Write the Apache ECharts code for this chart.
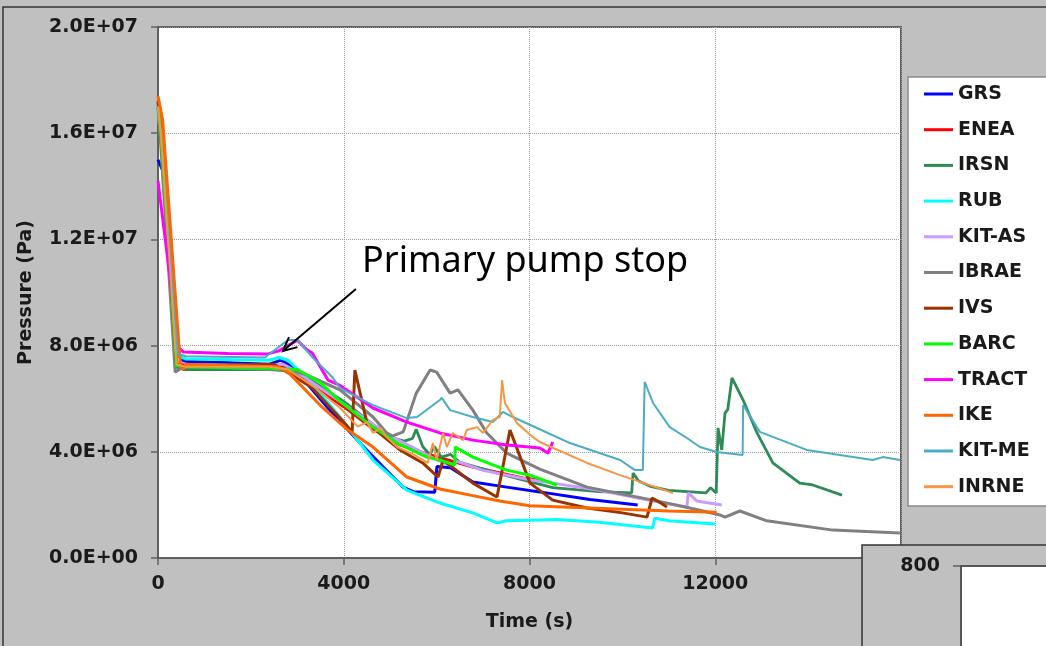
<!DOCTYPE html>
<html><head><meta charset="utf-8">
<script src="https://cdn.jsdelivr.net/npm/echarts@6/dist/echarts.min.js"></script>
<style>html,body{margin:0;padding:0;background:#c0c0c0}#c{width:1046px;height:646px}</style>
</head><body><div id="c"></div><script>
// ---- data (time s, pressure Pa) ----
const seriesNames = ['GRS','ENEA','IRSN','RUB','KIT-AS','IBRAE','IVS','BARC','TRACT','IKE','KIT-ME','INRNE'];
const seriesColors = ['#0000ff','#ff0000','#2e8b57','#00ffff','#cc99ff','#808080','#993300','#00ff00','#ff00ff','#ff6600','#4bacc6','#f79646'];
const xTickValues = [0,4000,8000,12000,16000];
const yTickValues = [0,4e6,8e6,1.2e7,1.6e7,2e7];
const yTickLabels = ['0.0E+00','4.0E+06','8.0E+06','1.2E+07','1.6E+07','2.0E+07'];

const GRS = [[0,15.0e6],[100,14.6e6],[450,7.7e6],[550,7.4e6],[1500,7.35e6],[2400,7.3e6],[2650,7.45e6],[2900,7.2e6],[3660,5.65e6],[4350,4.33e6],[4850,3.43e6],[5275,2.67e6],[5500,2.5e6],[5960,2.48e6],[6007,3.45e6],[6300,3.4e6],[6780,2.86e6],[7510,2.67e6],[8220,2.49e6],[9300,2.2e6],[10330,2.0e6]];
const ENEA = [[0,17.0e6],[60,16.5e6],[400,7.3e6],[600,7.2e6],[2400,7.15e6],[2700,7.2e6],[3000,6.9e6],[4000,5.7e6],[4600,4.9e6],[5210,4.26e6],[5860,3.88e6],[6780,3.43e6],[7860,3.01e6],[8220,2.94e6]];
const IRSN = [[0,17.2e6],[60,16.5e6],[380,7.2e6],[550,7.1e6],[2400,7.1e6],[2800,7.05e6],[3200,6.8e6],[4000,5.9e6],[4800,4.8e6],[5000,4.65e6],[5100,4.5e6],[5300,4.4e6],[5480,4.5e6],[5560,4.85e6],[5700,4.2e6],[5850,3.9e6],[5950,4.2e6],[6100,3.8e6],[6300,3.9e6],[6500,3.6e6],[7500,3.1e6],[8500,2.65e6],[9500,2.5e6],[10200,2.45e6],[10230,3.2e6],[10350,2.9e6],[10600,2.7e6],[11000,2.55e6],[11800,2.45e6],[11900,2.65e6],[12020,2.45e6],[12060,4.9e6],[12140,4.07e6],[12210,5.46e6],[12270,5.6e6],[12360,6.78e6],[12600,5.95e6],[12900,4.71e6],[13240,3.58e6],[13820,2.82e6],[14100,2.75e6],[14730,2.37e6]];
const RUB = [[0,17.0e6],[60,16.0e6],[420,7.6e6],[600,7.5e6],[2400,7.45e6],[2600,7.55e6],[2800,7.45e6],[3300,6.6e6],[3920,5.3e6],[4630,3.69e6],[5360,2.56e6],[6070,2.07e6],[6780,1.70e6],[7300,1.32e6],[7500,1.4e6],[8220,1.43e6],[8600,1.45e6],[9500,1.35e6],[10650,1.13e6],[10700,1.5e6],[11000,1.4e6],[12000,1.28e6]];
const KITAS = [[0,16.8e6],[60,16e6],[400,7.4e6],[600,7.3e6],[2400,7.25e6],[2700,7.3e6],[3000,7.0e6],[4000,5.8e6],[5000,4.6e6],[6000,3.7e6],[6350,3.45e6],[6420,3.65e6],[7000,3.3e6],[8000,2.95e6],[8500,2.82e6],[9500,2.55e6],[10500,2.2e6],[11390,1.92e6],[11420,2.45e6],[11600,2.15e6],[12140,2.0e6]];
const IBRAE = [[0,17.0e6],[60,15.5e6],[370,7.0e6],[550,7.2e6],[2400,7.1e6],[2800,7.1e6],[3200,6.9e6],[3920,6.33e6],[4630,5.31e6],[5000,4.56e6],[5280,4.75e6],[5560,6.2e6],[5860,7.08e6],[6000,7.0e6],[6290,6.21e6],[6460,6.33e6],[6780,5.57e6],[7080,4.71e6],[7510,3.95e6],[8220,3.35e6],[9240,2.67e6],[10660,2.18e6],[11670,1.8e6],[12100,1.62e6],[12210,1.54e6],[12530,1.77e6],[13110,1.4e6],[14530,1.05e6],[15975,0.94e6]];
const IVS = [[0,17.2e6],[60,16e6],[400,7.3e6],[600,7.25e6],[2500,7.3e6],[3300,6.44e6],[3960,5.2e6],[4180,4.75e6],[4240,7.08e6],[4500,5.08e6],[5210,4.07e6],[5700,3.58e6],[6030,3.05e6],[6140,3.69e6],[6220,3.58e6],[6780,2.82e6],[7300,2.3e6],[7580,4.82e6],[7800,3.8e6],[8010,2.82e6],[8500,2.18e6],[9240,1.88e6],[10000,1.7e6],[10530,1.54e6],[10640,2.26e6],[10800,2.1e6],[10960,1.92e6]];
const BARC = [[0,17.0e6],[60,16e6],[400,7.25e6],[600,7.2e6],[2400,7.15e6],[3000,7.1e6],[3500,6.6e6],[3920,5.9e6],[4630,4.93e6],[5150,4.33e6],[5790,3.8e6],[6070,3.69e6],[6390,3.5e6],[6400,4.18e6],[6780,3.8e6],[7510,3.31e6],[8010,3.12e6],[8590,2.75e6]];
const TRACT = [[0,14.2e6],[450,7.9e6],[550,7.76e6],[1500,7.7e6],[2350,7.68e6],[2600,7.8e6],[3000,8.2e6],[3200,7.85e6],[3320,7.72e6],[3660,6.7e6],[3920,6.5e6],[4630,5.65e6],[5360,5.12e6],[6070,4.71e6],[6780,4.44e6],[7510,4.26e6],[8220,4.14e6],[8400,3.95e6],[8440,3.88e6],[8500,4.37e6]];
const IKE = [[0,17.4e6],[100,16.5e6],[480,7.3e6],[540,7.1e6],[600,7.3e6],[1500,7.25e6],[2580,7.2e6],[2800,7.0e6],[3530,5.69e6],[4090,4.82e6],[4630,4.18e6],[5360,3.05e6],[6070,2.6e6],[6780,2.35e6],[7360,2.15e6],[8000,1.97e6],[9000,1.9e6],[10000,1.84e6],[11000,1.77e6],[12030,1.72e6]];
const KITME = [[0,17.0e6],[60,16e6],[420,7.7e6],[600,7.6e6],[2300,7.55e6],[2800,8.21e6],[3010,8.21e6],[3320,7.57e6],[3750,6.82e6],[3920,6.4e6],[4630,5.76e6],[5360,5.27e6],[5580,5.31e6],[6070,5.95e6],[6110,6.03e6],[6290,5.57e6],[6780,5.31e6],[7210,5.12e6],[7430,5.5e6],[7640,5.31e6],[8220,4.85e6],[8870,4.33e6],[9950,3.69e6],[10270,3.31e6],[10440,3.31e6],[10480,6.63e6],[10660,5.84e6],[11020,4.93e6],[11390,4.52e6],[11670,4.18e6],[12030,3.99e6],[12590,3.88e6],[12600,5.76e6],[12960,4.75e6],[13970,4.07e6],[15390,3.69e6],[15610,3.8e6],[15975,3.69e6]];
const INRNE = [[0,17.0e6],[60,16e6],[400,7.3e6],[600,7.2e6],[2400,7.2e6],[2800,7.1e6],[3400,6.4e6],[3920,5.65e6],[4300,4.95e6],[4500,5.12e6],[4630,4.71e6],[4800,4.9e6],[4900,4.6e6],[5150,4.18e6],[5500,3.9e6],[5810,3.58e6],[5920,4.33e6],[6000,3.69e6],[6140,4.71e6],[6220,4.18e6],[6350,4.71e6],[6570,4.44e6],[6650,4.82e6],[6870,4.93e6],[7000,4.71e6],[7210,5.2e6],[7360,5.31e6],[7410,6.7e6],[7470,5.84e6],[7730,5.08e6],[8070,4.56e6],[8220,4.37e6],[9240,3.58e6],[9950,3.12e6],[11090,2.45e6]];

const seriesData = [GRS,ENEA,IRSN,RUB,KITAS,IBRAE,IVS,BARC,TRACT,IKE,KITME,INRNE];
const seriesWidths = [3,3,2.8,3,3,3,3,3,3,3,2,2];

const annotationText = 'Primary pump stop';
const annotationPoint = [2690, 7.8e6];
const insetLabel = '800';

const FONT = 'DejaVu Sans';
const chart = echarts.init(document.getElementById('c'), null, {renderer:'canvas'});

const option = {
  animation:false,
  backgroundColor:'#c0c0c0',
  grid:{left:158, top:27, right:145, bottom:88, show:true, backgroundColor:'#ffffff', borderColor:'#606060', borderWidth:2},
  xAxis:{type:'value', min:0, max:16000, interval:4000,
    axisLine:{show:true, onZero:false, lineStyle:{color:'#606060', width:2}},
    axisTick:{show:true, length:7, lineStyle:{color:'#606060', width:1.5}},
    splitLine:{show:true, lineStyle:{color:'#999', type:'dotted', width:1}},
    axisLabel:{margin:17, fontFamily:FONT, fontWeight:'bold', fontSize:19, color:'#1a1a1a',
      formatter:v=> xTickValues.indexOf(v)>=0 ? String(v) : ''},
    name:'Time (s)', nameLocation:'middle', nameGap:55,
    nameTextStyle:{fontFamily:FONT, fontWeight:'bold', fontSize:19, color:'#1a1a1a'}},
  yAxis:{type:'value', min:0, max:2e7, interval:4e6,
    axisLine:{show:true, onZero:false, lineStyle:{color:'#606060', width:2}},
    axisTick:{show:true, length:7, lineStyle:{color:'#606060', width:1.5}},
    splitLine:{show:true, lineStyle:{color:'#999', type:'dotted', width:1}},
    axisLabel:{margin:20, fontFamily:FONT, fontWeight:'bold', fontSize:19, color:'#1a1a1a',
      formatter:v=>{const i=yTickValues.indexOf(v); return i>=0?yTickLabels[i]:'';}},
    name:'Pressure (Pa)', nameLocation:'middle', nameGap:122,
    nameTextStyle:{fontFamily:FONT, fontWeight:'bold', fontSize:19, color:'#1a1a1a'}},
  legend:{orient:'vertical', left:924, top:84, padding:0, itemWidth:29, itemHeight:3, itemGap:15.7, icon:'rect',
    data:seriesNames,
    textStyle:{fontFamily:FONT, fontWeight:'bold', fontSize:19, color:'#1a1a1a', lineHeight:20}},
  series: seriesNames.map((n,i)=>({
    name:n, type:'line', data:seriesData[i], symbol:'none', showSymbol:false, smooth:false,
    color:seriesColors[i], lineStyle:{width:seriesWidths[i], color:seriesColors[i]}, z:2+i
  })),
  graphic:[]
};
chart.setOption(option);

const tip = chart.convertToPixel({gridIndex:0}, annotationPoint);
const tail = [tip[0]+73, tip[1]-62];
const dx = tip[0]-tail[0], dy = tip[1]-tail[1];
const L = Math.hypot(dx,dy); const ux = -dx/L, uy = -dy/L;
const c = Math.cos(Math.PI/7), s = Math.sin(Math.PI/7), h = 15;
const w1 = [tip[0]+h*(ux*c-uy*s), tip[1]+h*(ux*s+uy*c)];
const w2 = [tip[0]+h*(ux*c+uy*s), tip[1]+h*(-ux*s+uy*c)];

chart.setOption({graphic:[
  {type:'rect', z:0, silent:true, shape:{x:908,y:77,width:160,height:429}, style:{fill:'#ffffff', stroke:'#8a8a8a', lineWidth:1.5}},
  {type:'line', z:50, silent:true, shape:{x1:tail[0],y1:tail[1],x2:tip[0],y2:tip[1]}, style:{stroke:'#000', lineWidth:2}},
  {type:'polyline', z:50, silent:true, shape:{points:[w1,tip,w2]}, style:{stroke:'#000', lineWidth:2, fill:null}},
  {type:'text', z:50, silent:true, x:362, y:262, style:{text:annotationText, font:'36px "Noto Sans"', fill:'#000', verticalAlign:'middle', align:'left'}},
  {type:'rect', z:100, silent:true, shape:{x:862,y:545,width:220,height:140}, style:{fill:'#c0c0c0', stroke:'#333', lineWidth:1.5}},
  {type:'text', z:101, silent:true, x:940, y:566, style:{text:insetLabel, font:'bold 19px "DejaVu Sans"', fill:'#1a1a1a', align:'right', verticalAlign:'middle'}},
  {type:'line', z:101, silent:true, shape:{x1:953,y1:566,x2:961,y2:566}, style:{stroke:'#606060', lineWidth:1.5}},
  {type:'rect', z:101, silent:true, shape:{x:961,y:566,width:120,height:120}, style:{fill:'#ffffff', stroke:'#555', lineWidth:2}},
  {type:'rect', z:200, silent:true, shape:{x:3,y:7,width:1080,height:680}, style:{fill:null, stroke:'#333', lineWidth:1.5}}
]});
</script></body></html>
